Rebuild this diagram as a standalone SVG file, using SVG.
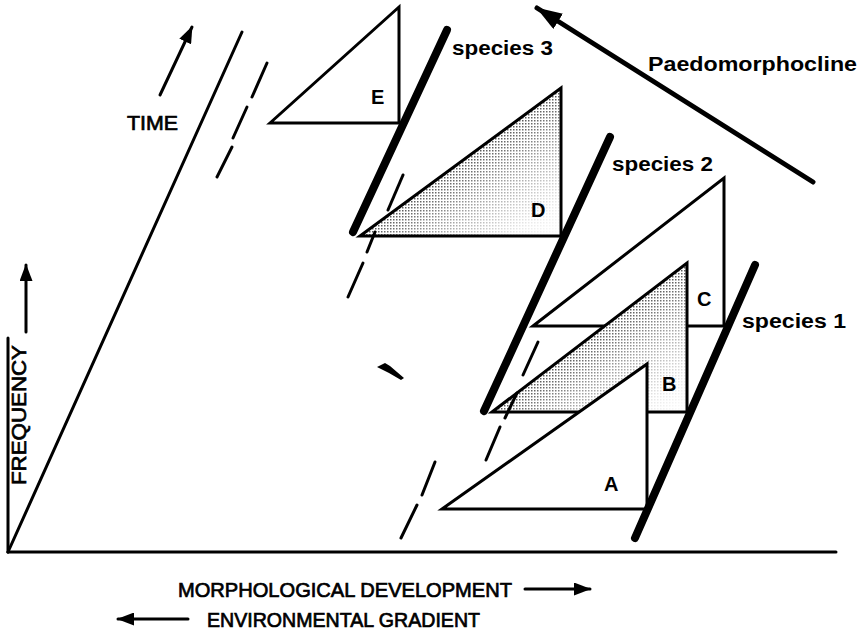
<svg xmlns="http://www.w3.org/2000/svg" width="864" height="644" viewBox="0 0 864 644">
<style>
.thin{fill:none;stroke:#000;stroke-width:3;stroke-linecap:round;stroke-linejoin:round}
.tri{fill:#fff;stroke:#000;stroke-width:3;stroke-linejoin:miter}
.thick{fill:none;stroke:#000;stroke-width:8;stroke-linecap:round}
.dash{fill:none;stroke:#000;stroke-width:3;stroke-linecap:round}
.lab{font-family:"Liberation Sans",Arial,sans-serif;font-size:20px;fill:#000}
.cap{stroke:#000;stroke-width:0.7}
.b{font-weight:bold}
</style>
<defs>
<marker id="ah" markerUnits="userSpaceOnUse" markerWidth="17" markerHeight="13" refX="16" refY="6.5" orient="auto">
<path d="M0,0 L17,6.5 L0,13 Z" fill="#000"/>
</marker>
<marker id="ahBig" markerUnits="userSpaceOnUse" markerWidth="26" markerHeight="18" refX="25" refY="9" orient="auto">
<path d="M0,0 L26,9 L0,18 Z" fill="#000"/>
</marker>
<pattern id="dots" width="3" height="3" patternUnits="userSpaceOnUse">
<rect width="1.5" height="1.5" fill="#444"/>
</pattern>
<linearGradient id="gD" gradientUnits="userSpaceOnUse" x1="455" y1="166" x2="526" y2="262">
<stop offset="0" stop-color="#fff" stop-opacity="0.9"/>
<stop offset="0.35" stop-color="#fff" stop-opacity="0.5"/>
<stop offset="0.75" stop-color="#fff" stop-opacity="0.12"/>
<stop offset="1" stop-color="#fff" stop-opacity="0"/>
</linearGradient>
<linearGradient id="gB" gradientUnits="userSpaceOnUse" x1="590" y1="337" x2="662" y2="431">
<stop offset="0" stop-color="#fff" stop-opacity="0.9"/>
<stop offset="0.35" stop-color="#fff" stop-opacity="0.5"/>
<stop offset="0.75" stop-color="#fff" stop-opacity="0.12"/>
<stop offset="1" stop-color="#fff" stop-opacity="0"/>
</linearGradient>
<mask id="mD"><polygon points="360,236 561,88 561,236" fill="url(#gD)"/></mask>
<mask id="mB"><polygon points="492,411 687,263 687,412" fill="url(#gB)"/></mask>
</defs>
<rect width="864" height="644" fill="#fff"/>

<g id="axes">
<line class="thin" x1="8" y1="552" x2="836" y2="552"/>
<line class="thin" x1="8" y1="552" x2="8" y2="338"/>
<line class="thin" x1="8" y1="552" x2="242" y2="32"/>
<text class="lab cap" x="0" y="0" font-size="18" textLength="140" lengthAdjust="spacingAndGlyphs" transform="translate(26,485) rotate(-90)">FREQUENCY</text>
<text class="lab cap" x="127" y="130" font-size="21" textLength="51" lengthAdjust="spacingAndGlyphs">TIME</text>
<text class="lab cap" x="178" y="597" font-size="22" textLength="334" lengthAdjust="spacingAndGlyphs">MORPHOLOGICAL DEVELOPMENT</text>
<text class="lab cap" x="207" y="627" font-size="22" textLength="273" lengthAdjust="spacingAndGlyphs">ENVIRONMENTAL GRADIENT</text>
</g>

<g id="lineage-dashed-1">
<line class="dash" x1="267" y1="63" x2="252" y2="97"/>
<line class="dash" x1="247" y1="107" x2="233" y2="138"/>
<line class="dash" x1="232" y1="147" x2="217" y2="177"/>
</g>

<g id="triangle-E">
<polygon class="tri" points="270,123 399,7 399,123"/>
<text class="lab b" x="371" y="104" font-size="21">E</text>
</g>

<g id="triangle-D">
<polygon points="360,236 561,88 561,236" fill="#fff"/>
<rect x="358" y="86" width="206" height="152" fill="url(#dots)" mask="url(#mD)"/>
<polygon points="360,236 561,88 561,236" fill="none" stroke="#000" stroke-width="3"/>
<text class="lab b" x="531" y="217" font-size="21">D</text>
</g>

<g id="triangle-C">
<polygon class="tri" points="533,326 724,178 724,326"/>
<text class="lab b" x="697" y="306" font-size="21">C</text>
</g>

<g id="triangle-B">
<polygon points="492,411 687,263 687,412" fill="#fff"/>
<rect x="490" y="261" width="200" height="153" fill="url(#dots)" mask="url(#mB)"/>
<polygon points="492,412 687,263 687,412" fill="none" stroke="#000" stroke-width="3"/>
<text class="lab b" x="662" y="391" font-size="21">B</text>
</g>

<g id="triangle-A">
<polygon class="tri" points="442,509 647,364 647,509"/>
<text class="lab b" x="604" y="491" font-size="21">A</text>
</g>

<g id="lineage-dashed-2">
<line class="dash" x1="403" y1="175" x2="388" y2="210"/>
<line class="dash" x1="375" y1="232" x2="367" y2="252"/>
<line class="dash" x1="363" y1="263" x2="348" y2="297"/>
</g>
<g id="lineage-dashed-3">
<line class="dash" x1="538" y1="342" x2="523" y2="375"/>
<line class="dash" x1="517" y1="393" x2="505" y2="418"/>
<line class="dash" x1="500" y1="427" x2="486" y2="460"/>
</g>
<g id="lineage-dashed-4">
<line class="dash" x1="435" y1="462" x2="422" y2="495"/>
<line class="dash" x1="417" y1="505" x2="401" y2="538"/>
</g>

<g id="species-3">
<line class="thick" x1="447" y1="30" x2="353" y2="232"/>
<text class="lab b" x="452" y="55" font-size="21" textLength="101" lengthAdjust="spacingAndGlyphs">species 3</text>
</g>
<g id="species-2">
<line class="thick" x1="610" y1="137" x2="484" y2="411"/>
<text class="lab b" x="612" y="171" font-size="21" textLength="101" lengthAdjust="spacingAndGlyphs">species 2</text>
</g>
<g id="species-1">
<line class="thick" x1="755" y1="265" x2="635" y2="538"/>
<text class="lab b" x="742" y="328" font-size="21" textLength="104" lengthAdjust="spacingAndGlyphs">species 1</text>
</g>

<g id="mark">
<path d="M377,367 L385,363 L390,366 L404,378 L401,380 L389,373 Z" fill="#000"/>
</g>

<g id="connectors">
<line class="thin" x1="160" y1="95" x2="192" y2="27" marker-end="url(#ah)"/>
<line class="thin" x1="26" y1="332" x2="26" y2="265" marker-end="url(#ah)"/>
<line class="thin" x1="525" y1="589" x2="590" y2="589" marker-end="url(#ah)"/>
<line class="thin" x1="188" y1="619" x2="118" y2="619" marker-end="url(#ah)"/>
<line x1="813" y1="182" x2="537" y2="8" stroke="#000" stroke-width="5" stroke-linecap="round" marker-end="url(#ahBig)"/>
<text class="lab b" x="648" y="71" font-size="21" textLength="209" lengthAdjust="spacingAndGlyphs">Paedomorphocline</text>
</g>
</svg>
